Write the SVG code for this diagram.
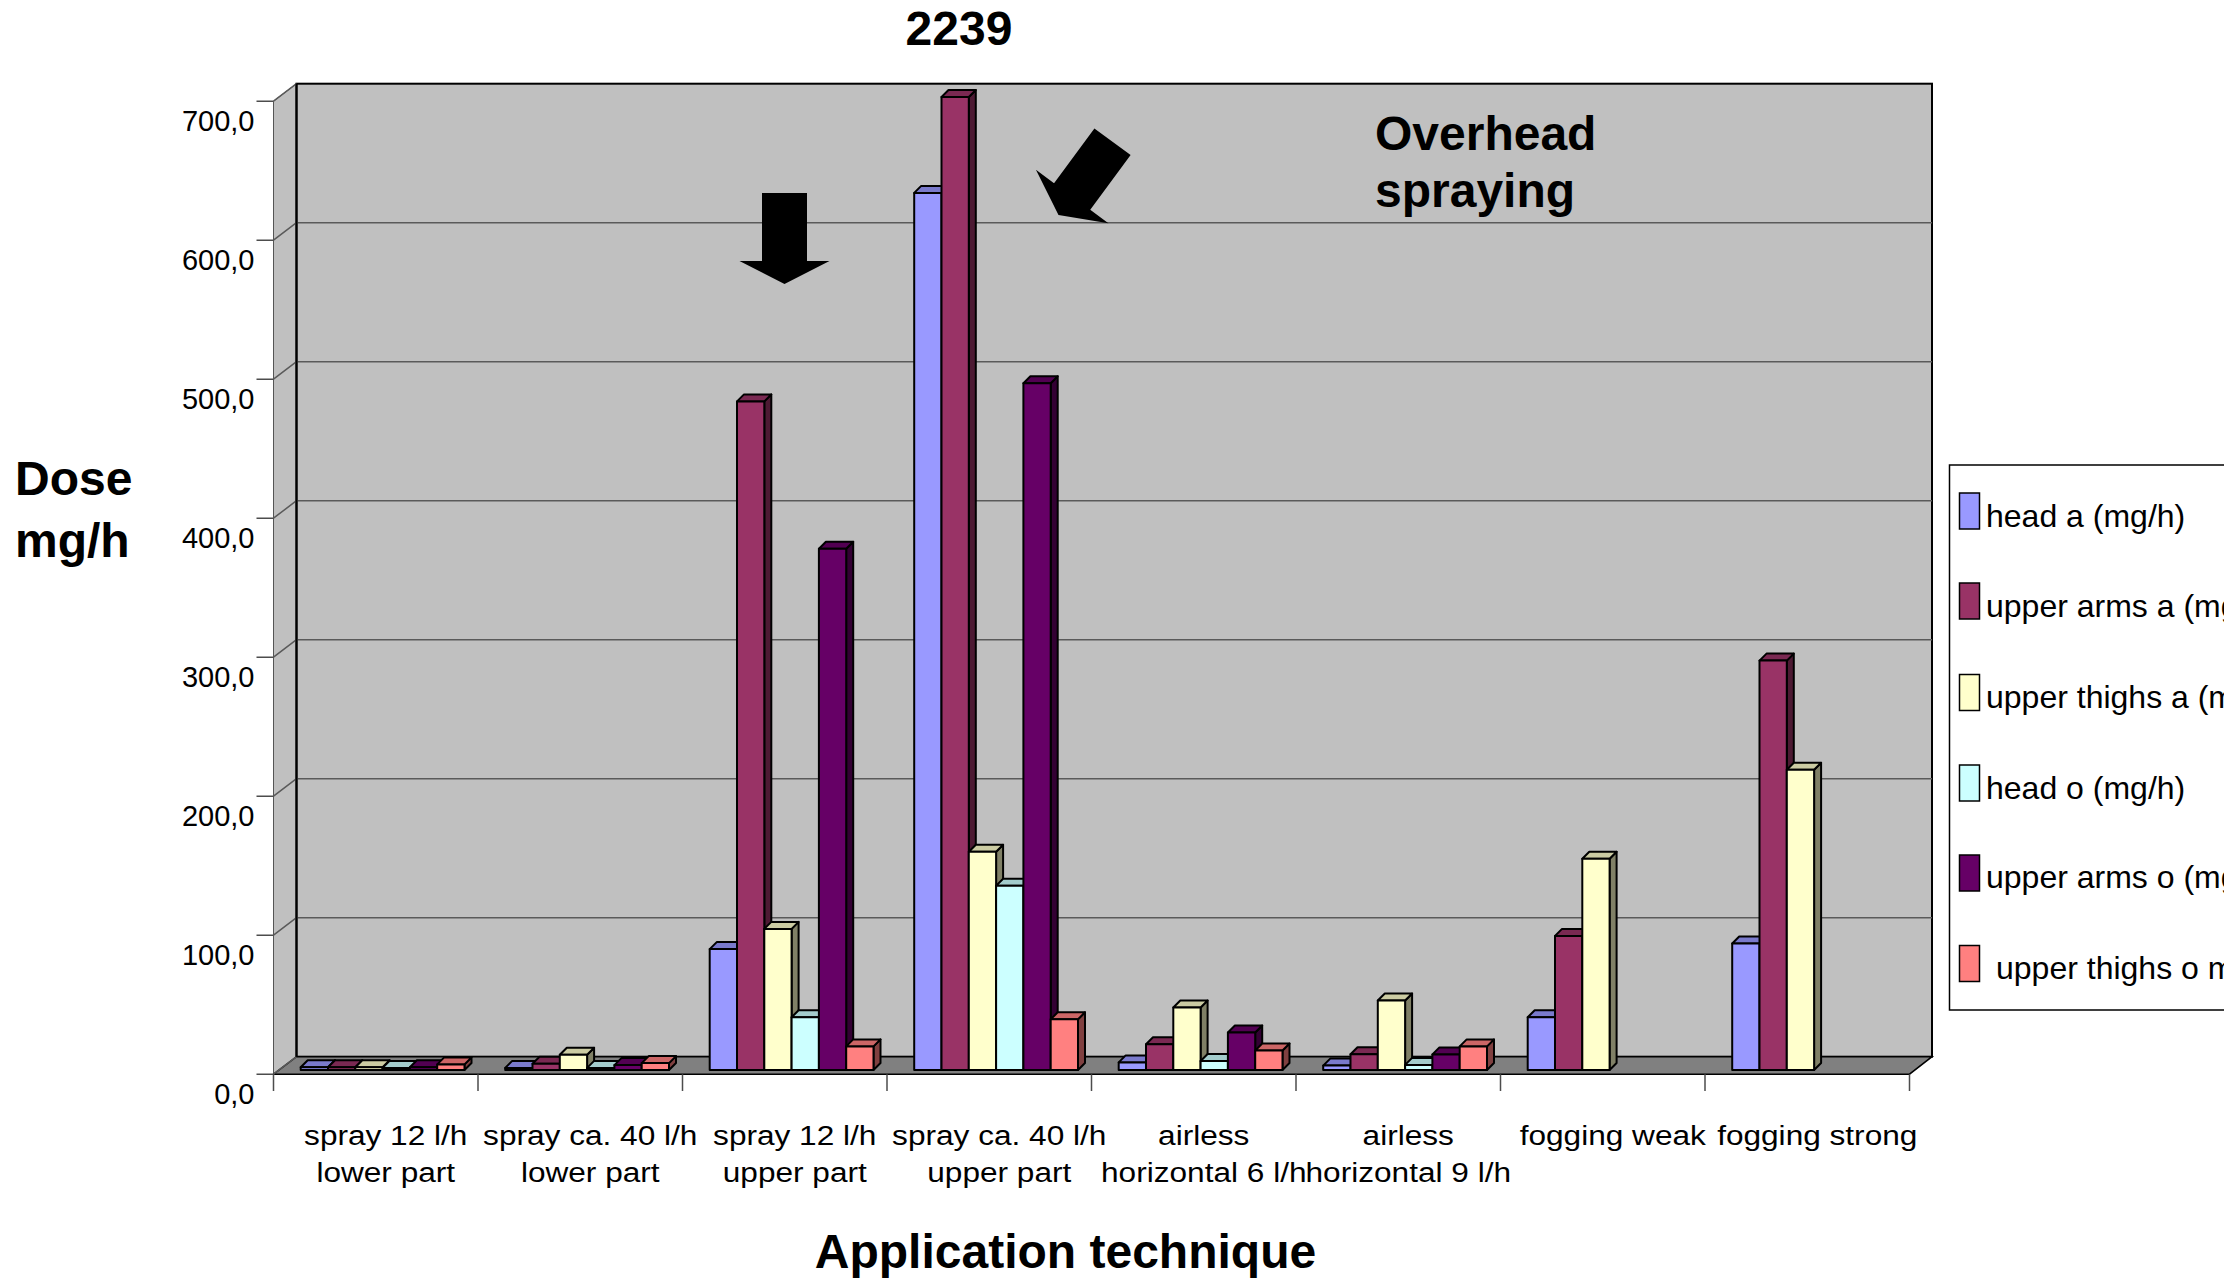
<svg xmlns="http://www.w3.org/2000/svg" xmlns:xlink="http://www.w3.org/1999/xlink" width="2224" height="1279" viewBox="0 0 2224 1279">
  <style>
    text { font-family: "Liberation Sans", Arial, sans-serif; fill: #000; }
    .title { font-size: 48px; font-weight: bold; }
    .ytick { font-size: 29px; text-anchor: end; }
    .xlab { font-size: 27px; text-anchor: middle; }
    .leg { font-size: 32px; }
    .grid { stroke: #5a5a5a; stroke-width: 1.5; fill: none; }
    .tick { stroke: #4d4d4d; stroke-width: 1.5; fill: none; }
    .bar * { stroke: #000; stroke-width: 2; stroke-linejoin: round; }
    .sw { stroke: #000; stroke-width: 1.5; }
    .f1 { fill: #9999FF; } .t1 { fill: #7A7ACC; } .d1 { fill: #4D4D80; }
    .f2 { fill: #993366; } .t2 { fill: #7A2952; } .d2 { fill: #4D1A33; }
    .f3 { fill: #FFFFCC; } .t3 { fill: #CCCCA3; } .d3 { fill: #808066; }
    .f4 { fill: #CCFFFF; } .t4 { fill: #A3CCCC; } .d4 { fill: #668080; }
    .f5 { fill: #660066; } .t5 { fill: #520052; } .d5 { fill: #330033; }
    .f6 { fill: #FF8080; } .t6 { fill: #CC6666; } .d6 { fill: #804040; }
  </style>
  <defs>
    <!-- top face of a bar, origin at the front-left top corner -->
    <path id="tp" d="M0 0 L7 -7 H34.3 L27.3 0 Z"/>
    <!-- block arrow, tip at origin, pointing along +y -->
    <path id="blockArrow" d="M-22.5 -91 H22.5 V-23 H45 L0 0 L-45 -23 H-22.5 Z"/>
  </defs>

  <rect width="2224" height="1279" fill="#fff"/>

  <!-- plot walls -->
  <g id="walls">
    <polygon points="273.5,101.2 296.5,83.7 296.5,1056.7 273.5,1074.2" fill="#C0C0C0" stroke="#555" stroke-width="1"/>
    <rect x="296.5" y="83.7" width="1635.5" height="973" fill="#C0C0C0" stroke="#000" stroke-width="2"/>
    <polygon points="296.5,1056.7 1932,1056.7 1909.5,1074.2 273.5,1074.2" fill="#808080" stroke="#000" stroke-width="1.5"/>
  </g>

  <!-- value grid on the back and side walls -->
  <g id="gridlines">
    <path class="grid" d="M296.5 917.7 H1932 M296.5 778.7 H1932 M296.5 639.7 H1932 M296.5 500.7 H1932 M296.5 361.7 H1932 M296.5 222.7 H1932"/>
    <path class="grid" d="M296.5 1056.7 L273.5 1074.2 M296.5 917.7 L273.5 935.2 M296.5 778.7 L273.5 796.2 M296.5 639.7 L273.5 657.2 M296.5 500.7 L273.5 518.2 M296.5 361.7 L273.5 379.2 M296.5 222.7 L273.5 240.2 M296.5 83.7 L273.5 101.2"/>
    <path d="M296.5 83.7 V1056.7" stroke="#000" stroke-width="2"/>
  </g>

  <!-- axes and tick marks -->
  <g id="axes">
    <path class="tick" d="M256.5 1074.2 H273.5 M256.5 935.2 H273.5 M256.5 796.2 H273.5 M256.5 657.2 H273.5 M256.5 518.2 H273.5 M256.5 379.2 H273.5 M256.5 240.2 H273.5 M256.5 101.2 H273.5"/>
    <path class="tick" d="M273.5 1074.2 V1091 M478 1074.2 V1091 M682.5 1074.2 V1091 M887 1074.2 V1091 M1091.5 1074.2 V1091 M1296 1074.2 V1091 M1500.5 1074.2 V1091 M1705 1074.2 V1091 M1909.5 1074.2 V1091"/>
    <text class="ytick" x="254.5" y="1104.2">0,0</text>
    <text class="ytick" x="254.5" y="965.2">100,0</text>
    <text class="ytick" x="254.5" y="826.2">200,0</text>
    <text class="ytick" x="254.5" y="687.2">300,0</text>
    <text class="ytick" x="254.5" y="548.2">400,0</text>
    <text class="ytick" x="254.5" y="409.2">500,0</text>
    <text class="ytick" x="254.5" y="270.2">600,0</text>
    <text class="ytick" x="254.5" y="131.2">700,0</text>
  </g>

  <!-- bars, one group per application technique -->
  <g id="cat-spray12-lower" class="bar">
    <g transform="translate(300.7 1067.2)"><path class="d1" d="M27.3 0 L34.3 -7 V-4.2 L27.3 2.8 Z"/><use xlink:href="#tp" class="t1"/><rect class="f1" width="27.3" height="2.8"/></g>
    <g transform="translate(328 1067.2)"><path class="d2" d="M27.3 0 L34.3 -7 V-4.2 L27.3 2.8 Z"/><use xlink:href="#tp" class="t2"/><rect class="f2" width="27.3" height="2.8"/></g>
    <g transform="translate(355.3 1067.2)"><path class="d3" d="M27.3 0 L34.3 -7 V-4.2 L27.3 2.8 Z"/><use xlink:href="#tp" class="t3"/><rect class="f3" width="27.3" height="2.8"/></g>
    <g transform="translate(382.6 1067.9)"><path class="d4" d="M27.3 0 L34.3 -7 V-4.9 L27.3 2.1 Z"/><use xlink:href="#tp" class="t4"/><rect class="f4" width="27.3" height="2.1"/></g>
    <g transform="translate(409.9 1067.2)"><path class="d5" d="M27.3 0 L34.3 -7 V-4.2 L27.3 2.8 Z"/><use xlink:href="#tp" class="t5"/><rect class="f5" width="27.3" height="2.8"/></g>
    <g transform="translate(437.2 1064.4)"><path class="d6" d="M27.3 0 L34.3 -7 V-1.4 L27.3 5.6 Z"/><use xlink:href="#tp" class="t6"/><rect class="f6" width="27.3" height="5.6"/></g>
  </g>
  <g id="cat-spray40-lower" class="bar">
    <g transform="translate(505.2 1067.9)"><path class="d1" d="M27.3 0 L34.3 -7 V-4.9 L27.3 2.1 Z"/><use xlink:href="#tp" class="t1"/><rect class="f1" width="27.3" height="2.1"/></g>
    <g transform="translate(532.5 1063.7)"><path class="d2" d="M27.3 0 L34.3 -7 V-0.7 L27.3 6.3 Z"/><use xlink:href="#tp" class="t2"/><rect class="f2" width="27.3" height="6.3"/></g>
    <g transform="translate(559.8 1054.7)"><path class="d3" d="M27.3 0 L34.3 -7 V8.3 L27.3 15.3 Z"/><use xlink:href="#tp" class="t3"/><rect class="f3" width="27.3" height="15.3"/></g>
    <g transform="translate(587.1 1067.9)"><path class="d4" d="M27.3 0 L34.3 -7 V-4.9 L27.3 2.1 Z"/><use xlink:href="#tp" class="t4"/><rect class="f4" width="27.3" height="2.1"/></g>
    <g transform="translate(614.4 1065.1)"><path class="d5" d="M27.3 0 L34.3 -7 V-2.1 L27.3 4.9 Z"/><use xlink:href="#tp" class="t5"/><rect class="f5" width="27.3" height="4.9"/></g>
    <g transform="translate(641.7 1063.1)"><path class="d6" d="M27.3 0 L34.3 -7 V-0.1 L27.3 6.9 Z"/><use xlink:href="#tp" class="t6"/><rect class="f6" width="27.3" height="6.9"/></g>
  </g>
  <g id="cat-spray12-upper" class="bar">
    <g transform="translate(709.7 949.1)"><path class="d1" d="M27.3 0 L34.3 -7 V113.9 L27.3 120.9 Z"/><use xlink:href="#tp" class="t1"/><rect class="f1" width="27.3" height="120.9"/></g>
    <g transform="translate(737 401.4)"><path class="d2" d="M27.3 0 L34.3 -7 V661.6 L27.3 668.6 Z"/><use xlink:href="#tp" class="t2"/><rect class="f2" width="27.3" height="668.6"/></g>
    <g transform="translate(764.3 928.9)"><path class="d3" d="M27.3 0 L34.3 -7 V134.1 L27.3 141.1 Z"/><use xlink:href="#tp" class="t3"/><rect class="f3" width="27.3" height="141.1"/></g>
    <g transform="translate(791.6 1017.2)"><path class="d4" d="M27.3 0 L34.3 -7 V45.8 L27.3 52.8 Z"/><use xlink:href="#tp" class="t4"/><rect class="f4" width="27.3" height="52.8"/></g>
    <g transform="translate(818.9 548.8)"><path class="d5" d="M27.3 0 L34.3 -7 V514.2 L27.3 521.2 Z"/><use xlink:href="#tp" class="t5"/><rect class="f5" width="27.3" height="521.2"/></g>
    <g transform="translate(846.2 1046.4)"><path class="d6" d="M27.3 0 L34.3 -7 V16.6 L27.3 23.6 Z"/><use xlink:href="#tp" class="t6"/><rect class="f6" width="27.3" height="23.6"/></g>
  </g>
  <g id="cat-spray40-upper" class="bar">
    <g transform="translate(914.2 192.9)"><path class="d1" d="M27.3 0 L34.3 -7 V870.1 L27.3 877.1 Z"/><use xlink:href="#tp" class="t1"/><rect class="f1" width="27.3" height="877.1"/></g>
    <g transform="translate(941.5 97)"><path class="d2" d="M27.3 0 L34.3 -7 V966 L27.3 973 Z"/><use xlink:href="#tp" class="t2"/><rect class="f2" width="27.3" height="973"/></g>
    <g transform="translate(968.8 851.8)"><path class="d3" d="M27.3 0 L34.3 -7 V211.2 L27.3 218.2 Z"/><use xlink:href="#tp" class="t3"/><rect class="f3" width="27.3" height="218.2"/></g>
    <g transform="translate(996.1 885.8)"><path class="d4" d="M27.3 0 L34.3 -7 V177.2 L27.3 184.2 Z"/><use xlink:href="#tp" class="t4"/><rect class="f4" width="27.3" height="184.2"/></g>
    <g transform="translate(1023.4 383.3)"><path class="d5" d="M27.3 0 L34.3 -7 V679.7 L27.3 686.7 Z"/><use xlink:href="#tp" class="t5"/><rect class="f5" width="27.3" height="686.7"/></g>
    <g transform="translate(1050.7 1019.3)"><path class="d6" d="M27.3 0 L34.3 -7 V43.7 L27.3 50.7 Z"/><use xlink:href="#tp" class="t6"/><rect class="f6" width="27.3" height="50.7"/></g>
  </g>
  <g id="cat-airless6" class="bar">
    <g transform="translate(1118.7 1062.4)"><path class="d1" d="M27.3 0 L34.3 -7 V0.6 L27.3 7.6 Z"/><use xlink:href="#tp" class="t1"/><rect class="f1" width="27.3" height="7.6"/></g>
    <g transform="translate(1146 1044.3)"><path class="d2" d="M27.3 0 L34.3 -7 V18.7 L27.3 25.7 Z"/><use xlink:href="#tp" class="t2"/><rect class="f2" width="27.3" height="25.7"/></g>
    <g transform="translate(1173.3 1007.5)"><path class="d3" d="M27.3 0 L34.3 -7 V55.5 L27.3 62.5 Z"/><use xlink:href="#tp" class="t3"/><rect class="f3" width="27.3" height="62.5"/></g>
    <g transform="translate(1200.6 1061)"><path class="d4" d="M27.3 0 L34.3 -7 V2 L27.3 9 Z"/><use xlink:href="#tp" class="t4"/><rect class="f4" width="27.3" height="9"/></g>
    <g transform="translate(1227.9 1032.5)"><path class="d5" d="M27.3 0 L34.3 -7 V30.5 L27.3 37.5 Z"/><use xlink:href="#tp" class="t5"/><rect class="f5" width="27.3" height="37.5"/></g>
    <g transform="translate(1255.2 1050.5)"><path class="d6" d="M27.3 0 L34.3 -7 V12.5 L27.3 19.5 Z"/><use xlink:href="#tp" class="t6"/><rect class="f6" width="27.3" height="19.5"/></g>
  </g>
  <g id="cat-airless9" class="bar">
    <g transform="translate(1323.2 1065.6)"><path class="d1" d="M27.3 0 L34.3 -7 V-2.6 L27.3 4.4 Z"/><use xlink:href="#tp" class="t1"/><rect class="f1" width="27.3" height="4.4"/></g>
    <g transform="translate(1350.5 1054.3)"><path class="d2" d="M27.3 0 L34.3 -7 V8.7 L27.3 15.7 Z"/><use xlink:href="#tp" class="t2"/><rect class="f2" width="27.3" height="15.7"/></g>
    <g transform="translate(1377.8 1000.5)"><path class="d3" d="M27.3 0 L34.3 -7 V62.5 L27.3 69.5 Z"/><use xlink:href="#tp" class="t3"/><rect class="f3" width="27.3" height="69.5"/></g>
    <g transform="translate(1405.1 1064.9)"><path class="d4" d="M27.3 0 L34.3 -7 V-1.9 L27.3 5.1 Z"/><use xlink:href="#tp" class="t4"/><rect class="f4" width="27.3" height="5.1"/></g>
    <g transform="translate(1432.4 1054.4)"><path class="d5" d="M27.3 0 L34.3 -7 V8.6 L27.3 15.6 Z"/><use xlink:href="#tp" class="t5"/><rect class="f5" width="27.3" height="15.6"/></g>
    <g transform="translate(1459.7 1046.4)"><path class="d6" d="M27.3 0 L34.3 -7 V16.6 L27.3 23.6 Z"/><use xlink:href="#tp" class="t6"/><rect class="f6" width="27.3" height="23.6"/></g>
  </g>
  <g id="cat-fogging-weak" class="bar">
    <g transform="translate(1527.7 1017.2)"><path class="d1" d="M27.3 0 L34.3 -7 V45.8 L27.3 52.8 Z"/><use xlink:href="#tp" class="t1"/><rect class="f1" width="27.3" height="52.8"/></g>
    <g transform="translate(1555 935.9)"><path class="d2" d="M27.3 0 L34.3 -7 V127.1 L27.3 134.1 Z"/><use xlink:href="#tp" class="t2"/><rect class="f2" width="27.3" height="134.1"/></g>
    <g transform="translate(1582.3 858.7)"><path class="d3" d="M27.3 0 L34.3 -7 V204.3 L27.3 211.3 Z"/><use xlink:href="#tp" class="t3"/><rect class="f3" width="27.3" height="211.3"/></g>
  </g>
  <g id="cat-fogging-strong" class="bar">
    <g transform="translate(1732.2 943.5)"><path class="d1" d="M27.3 0 L34.3 -7 V119.5 L27.3 126.5 Z"/><use xlink:href="#tp" class="t1"/><rect class="f1" width="27.3" height="126.5"/></g>
    <g transform="translate(1759.5 660.6)"><path class="d2" d="M27.3 0 L34.3 -7 V402.4 L27.3 409.4 Z"/><use xlink:href="#tp" class="t2"/><rect class="f2" width="27.3" height="409.4"/></g>
    <g transform="translate(1786.8 769.8)"><path class="d3" d="M27.3 0 L34.3 -7 V293.2 L27.3 300.2 Z"/><use xlink:href="#tp" class="t3"/><rect class="f3" width="27.3" height="300.2"/></g>
  </g>

  <!-- category labels -->
  <g id="category-labels">
    <text class="xlab" x="385.75" y="1145" textLength="163.3" lengthAdjust="spacingAndGlyphs">spray 12 l/h</text>
    <text class="xlab" x="385.75" y="1181.5" textLength="138.7" lengthAdjust="spacingAndGlyphs">lower part</text>
    <text class="xlab" x="590.25" y="1145" textLength="214.3" lengthAdjust="spacingAndGlyphs">spray ca. 40 l/h</text>
    <text class="xlab" x="590.25" y="1181.5" textLength="138.7" lengthAdjust="spacingAndGlyphs">lower part</text>
    <text class="xlab" x="794.75" y="1145" textLength="163.3" lengthAdjust="spacingAndGlyphs">spray 12 l/h</text>
    <text class="xlab" x="794.75" y="1181.5" textLength="144" lengthAdjust="spacingAndGlyphs">upper part</text>
    <text class="xlab" x="999.25" y="1145" textLength="214.3" lengthAdjust="spacingAndGlyphs">spray ca. 40 l/h</text>
    <text class="xlab" x="999.25" y="1181.5" textLength="144" lengthAdjust="spacingAndGlyphs">upper part</text>
    <text class="xlab" x="1203.75" y="1145" textLength="91.3" lengthAdjust="spacingAndGlyphs">airless</text>
    <text class="xlab" x="1203.75" y="1181.5" textLength="205.5" lengthAdjust="spacingAndGlyphs">horizontal 6 l/h</text>
    <text class="xlab" x="1408.25" y="1145" textLength="91.3" lengthAdjust="spacingAndGlyphs">airless</text>
    <text class="xlab" x="1408.25" y="1181.5" textLength="205.5" lengthAdjust="spacingAndGlyphs">horizontal 9 l/h</text>
    <text class="xlab" x="1612.75" y="1145" textLength="186.2" lengthAdjust="spacingAndGlyphs">fogging weak</text>
    <text class="xlab" x="1817.25" y="1145" textLength="200.2" lengthAdjust="spacingAndGlyphs">fogging strong</text>
  </g>

  <!-- titles and annotations -->
  <g id="titles">
    <text class="title" x="959" y="45" text-anchor="middle">2239</text>
    <text class="title" x="15" y="495">Dose</text>
    <text class="title" x="15" y="557">mg/h</text>
    <text class="title" x="1065.5" y="1268" text-anchor="middle">Application technique</text>
    <text class="title" x="1375" y="149.5">Overhead</text>
    <text class="title" x="1375" y="206.5">spraying</text>
  </g>

  <!-- pointer arrows -->
  <g id="arrows" fill="#000">
    <use xlink:href="#blockArrow" transform="translate(784.5 284)"/>
    <use xlink:href="#blockArrow" transform="translate(1058.5 215) rotate(36.4)"/>
  </g>

  <!-- legend -->
  <g id="legend">
    <rect x="1949.5" y="465" width="400" height="545" fill="#fff" stroke="#000" stroke-width="1.5"/>
    <rect class="sw f1" x="1959.5" y="493" width="20" height="36"/>
    <text class="leg" x="1986" y="526.5">head a (mg/h)</text>
    <rect class="sw f2" x="1959.5" y="583" width="20" height="36"/>
    <text class="leg" x="1986" y="616.5">upper arms a (mg/h)</text>
    <rect class="sw f3" x="1959.5" y="674.5" width="20" height="36"/>
    <text class="leg" x="1986" y="707.5">upper thighs a (mg/h)</text>
    <rect class="sw f4" x="1959.5" y="765" width="20" height="36"/>
    <text class="leg" x="1986" y="798.5">head o (mg/h)</text>
    <rect class="sw f5" x="1959.5" y="855" width="20" height="36"/>
    <text class="leg" x="1986" y="888">upper arms o (mg/h)</text>
    <rect class="sw f6" x="1959.5" y="945.5" width="20" height="36"/>
    <text class="leg" x="1996" y="979">upper thighs o mg/h</text>
  </g>
</svg>
